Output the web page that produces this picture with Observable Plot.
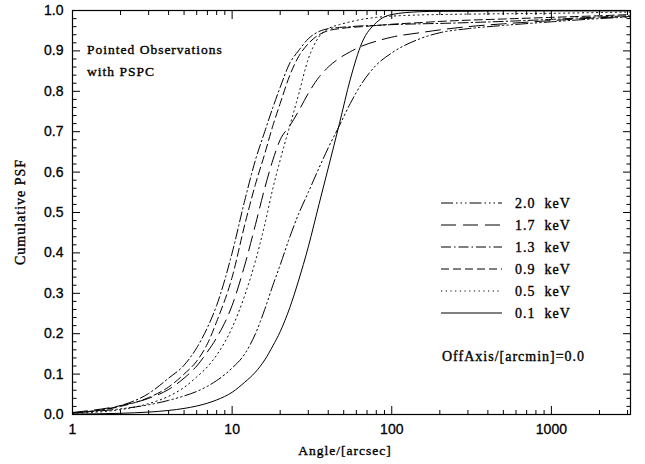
<!DOCTYPE html>
<html><head><meta charset="utf-8">
<script src="https://cdn.jsdelivr.net/npm/d3@7"></script>
<script src="https://cdn.jsdelivr.net/npm/@observablehq/plot@0.6"></script>
<style>
html,body{margin:0;padding:0;background:#fff;}
#chart{position:relative;width:645px;height:464px;}
</style></head><body><div id="chart"></div>
<script>
// ---- data ----
const angles = [1, 2, 3, 4, 5, 6, 7, 8, 10, 12, 14, 16, 18, 20, 23, 26, 30, 35, 40, 47, 55, 65, 80, 100, 150, 200, 300, 500, 1000, 2000, 3130];
const psf20 = [0.004, 0.014, 0.024, 0.035, 0.046, 0.057, 0.07, 0.084, 0.115, 0.15, 0.2, 0.26, 0.32, 0.37, 0.44, 0.495, 0.55, 0.61, 0.66, 0.715, 0.77, 0.82, 0.865, 0.895, 0.93, 0.945, 0.955, 0.963, 0.972, 0.98, 0.984];
const psf17 = [0.005, 0.022, 0.04, 0.062, 0.09, 0.12, 0.155, 0.19, 0.27, 0.37, 0.47, 0.56, 0.63, 0.68, 0.715, 0.75, 0.795, 0.835, 0.86, 0.882, 0.898, 0.912, 0.924, 0.934, 0.945, 0.952, 0.96, 0.967, 0.975, 0.982, 0.985];
const psf13 = [0.004, 0.022, 0.052, 0.09, 0.122, 0.165, 0.215, 0.27, 0.40, 0.53, 0.63, 0.70, 0.76, 0.81, 0.87, 0.90, 0.93, 0.948, 0.955, 0.958, 0.96, 0.962, 0.963, 0.965, 0.967, 0.968, 0.97, 0.973, 0.978, 0.984, 0.987];
const psf09 = [0.004, 0.02, 0.042, 0.068, 0.10, 0.132, 0.175, 0.23, 0.34, 0.47, 0.57, 0.645, 0.715, 0.77, 0.84, 0.885, 0.918, 0.94, 0.95, 0.955, 0.958, 0.96, 0.963, 0.966, 0.97, 0.973, 0.976, 0.979, 0.983, 0.987, 0.99];
const psf05 = [0.003, 0.012, 0.027, 0.045, 0.067, 0.093, 0.118, 0.147, 0.215, 0.295, 0.38, 0.47, 0.56, 0.63, 0.715, 0.79, 0.88, 0.935, 0.955, 0.965, 0.972, 0.978, 0.983, 0.986, 0.989, 0.99, 0.991, 0.992, 0.993, 0.995, 0.996];
const psf01 = [0.001, 0.003, 0.006, 0.01, 0.015, 0.021, 0.028, 0.036, 0.055, 0.08, 0.105, 0.135, 0.17, 0.205, 0.265, 0.33, 0.415, 0.52, 0.61, 0.72, 0.83, 0.92, 0.97, 0.99, 0.997, 0.998, 0.998, 0.999, 0.999, 0.999, 0.999];
const seriesNames = ["2.0 keV", "1.7 keV", "1.3 keV", "0.9 keV", "0.5 keV", "0.1 keV"];
const seriesValues = [psf20, psf17, psf13, psf09, psf05, psf01];
const xMajor = [1, 10, 100, 1000];
const xMinor = [2, 3, 4, 5, 6, 7, 8, 9, 20, 30, 40, 50, 60, 70, 80, 90, 200, 300, 400, 500, 600, 700, 800, 900, 2000, 3000];
const yMajor = [0, 0.1, 0.2, 0.3, 0.4, 0.5, 0.6, 0.7, 0.8, 0.9, 1.0];
const yMinor = d3.range(0, 50).map(i => (i + 1) * 0.02).filter((v, i) => (i + 1) % 5 !== 0);
const annotation = ["Pointed Observations", "with PSPC"];
const offAxisText = "OffAxis/[arcmin]=0.0";

// ---- styles ----
const dashStyle = {
  "2.0 keV": "12,3,1.5,3,1.5,3,1.5,3",
  "1.7 keV": "15,7",
  "1.3 keV": "10,3,1.5,3",
  "0.9 keV": "8,4",
  "0.5 keV": "1.2,3.5",
  "0.1 keV": null
};

const rows = [];
seriesNames.forEach((s, k) => angles.forEach((a, i) => rows.push({series: s, angle: a, psf: seriesValues[k][i]})));

const serif = "'Liberation Serif', 'DejaVu Serif', serif";
const lineMarks = seriesNames.map(s => Plot.line(rows.filter(r => r.series === s), {
  x: "angle", y: "psf", curve: "monotone-x", stroke: "black", strokeWidth: 1,
  strokeDasharray: dashStyle[s] || undefined, clip: true
}));

const chart = Plot.plot({
  width: 645, height: 464,
  marginLeft: 72, marginRight: 15, marginTop: 10, marginBottom: 50,
  x: {type: "log", domain: [1, 3130]},
  y: {domain: [0, 1]},
  style: {fontFamily: "'Liberation Sans', Arial, sans-serif", fontSize: "14px", color: "black", background: "white"},
  marks: [
    ...lineMarks,
    Plot.axisX({anchor: "bottom", ticks: xMajor, tickSize: -8, fill: "none", label: null}),
    Plot.axisX({anchor: "bottom", ticks: xMinor, tickSize: -4, fill: "none", label: null}),
    Plot.axisX({anchor: "top", ticks: xMajor, tickSize: -8, fill: "none", label: null}),
    Plot.axisX({anchor: "top", ticks: xMinor, tickSize: -4, fill: "none", label: null}),
    Plot.axisY({anchor: "left", ticks: yMajor, tickSize: -8, fill: "none", label: null}),
    Plot.axisY({anchor: "left", ticks: yMinor, tickSize: -4.5, fill: "none", label: null}),
    Plot.axisY({anchor: "right", ticks: yMajor, tickSize: -8, fill: "none", label: null}),
    Plot.axisY({anchor: "right", ticks: yMinor, tickSize: -4.5, fill: "none", label: null}),
    Plot.axisX({anchor: "bottom", ticks: xMajor, tickSize: 0, tickPadding: 10, tickFormat: d => String(d), stroke: "none", textStroke: "black", textStrokeWidth: 0.3, label: null}),
    Plot.axisY({anchor: "left", ticks: yMajor, tickSize: 0, tickPadding: 9, tickFormat: d => d.toFixed(1), stroke: "none", textStroke: "black", textStrokeWidth: 0.3, label: null}),
    Plot.frame({stroke: "black", strokeWidth: 1.2})
  ]
});
document.getElementById("chart").appendChild(chart);

// ---- titles, annotations and legend drawn into the same svg ----
const svg = d3.select(chart);
const txt = (x, y, s, opts = {}) => svg.append("text")
  .attr("x", x).attr("y", y).text(s)
  .attr("font-family", serif).attr("font-size", opts.size || 13.5)
  .attr("letter-spacing", opts.ls ?? 1).attr("fill", "black")
  .attr("stroke", "black").attr("stroke-width", 0.35)
  .attr("text-anchor", opts.anchor || "start")
  .attr("transform", opts.rotate ? `rotate(-90,${x},${y})` : null)
  .style("white-space", "pre");

txt(345, 455, "Angle/[arcsec]", {anchor: "middle", size: 13.5});
txt(25, 212, "Cumulative PSF", {anchor: "middle", rotate: true, size: 14});
txt(87, 54, annotation[0]);
txt(87, 76, annotation[1]);
txt(442, 361, offAxisText, {size: 14, ls: 1});

seriesNames.forEach((s, i) => {
  const y = 203 + i * 22;
  const ln = svg.append("line").attr("x1", 441).attr("x2", 502).attr("y1", y).attr("y2", y)
    .attr("stroke", "black").attr("stroke-width", 1);
  if (dashStyle[s]) ln.attr("stroke-dasharray", dashStyle[s]);
  const [num, unit] = s.split(" ");
  txt(515, y + 4.5, num + "  " + unit, {size: 14, ls: 1});
});
</script></body></html>
